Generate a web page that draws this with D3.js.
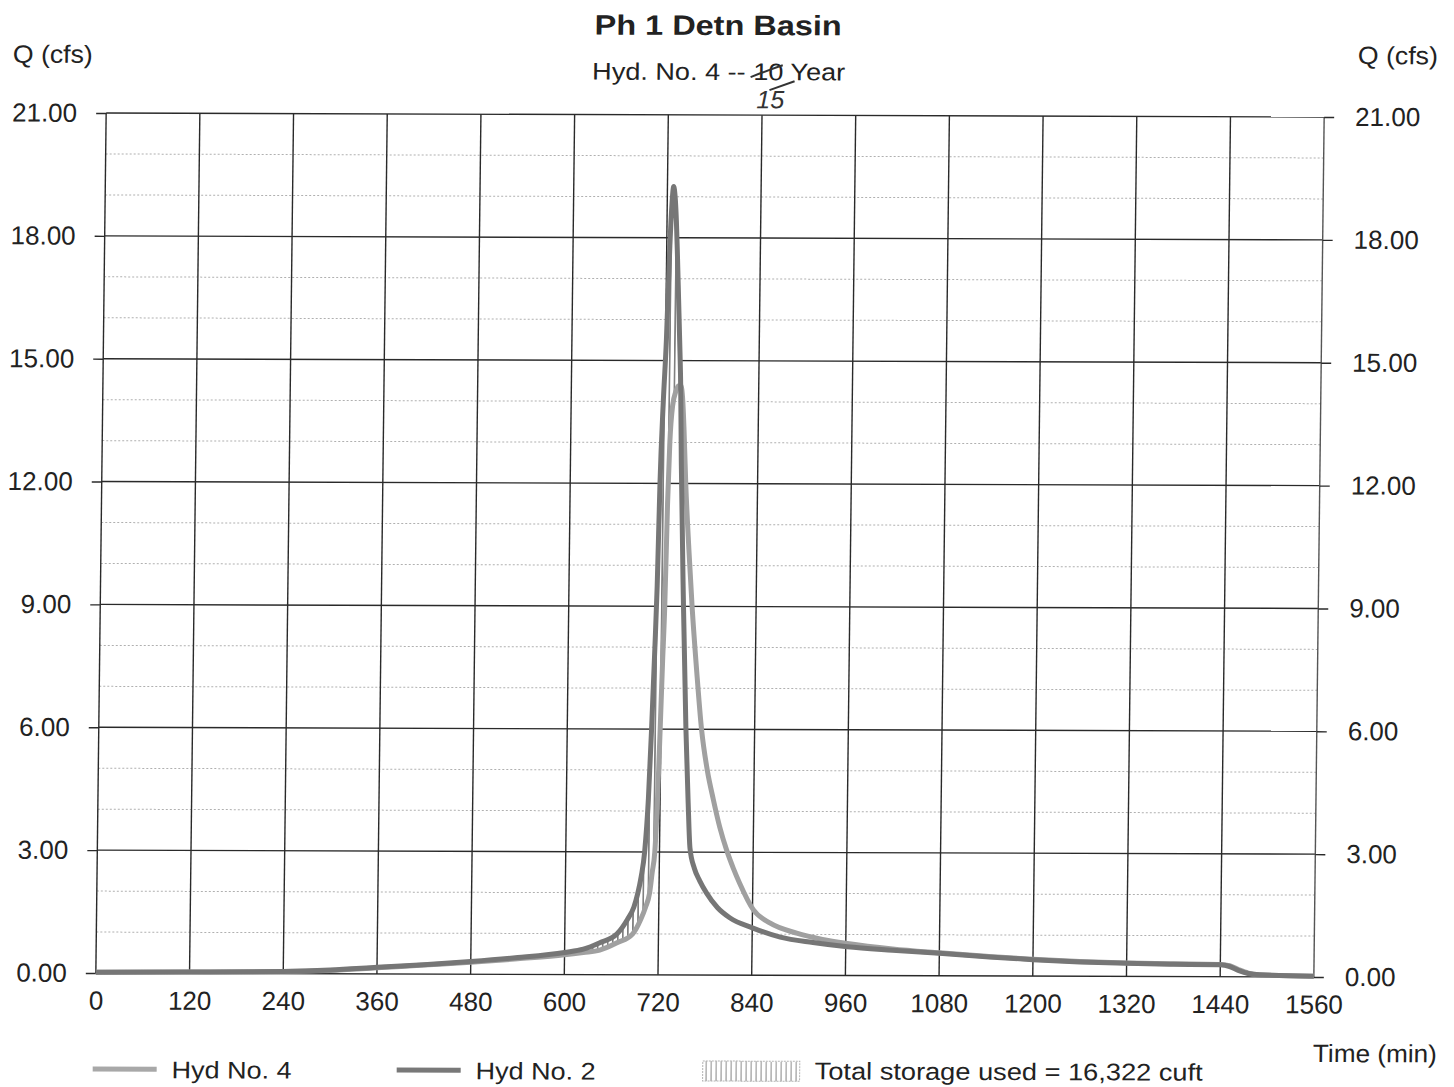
<!DOCTYPE html>
<html>
<head>
<meta charset="utf-8">
<script src="https://cdn.jsdelivr.net/npm/d3@7"></script>
<style>
  body { margin: 0; background: #fff; }
  svg { display: block; font-family: "Liberation Sans", Arial, sans-serif; }
</style>
</head>
<body>
<svg id="chart" width="1454" height="1087"></svg>
<script>
// Hydrograph ordinates: time (min) / flow (cfs)
const hyd2Time = [0, 120, 240, 300, 360, 420, 480, 540, 600, 624, 645, 667, 680, 688, 693, 697, 701, 705, 708, 711, 713, 715, 718, 721, 724, 726, 728, 730, 732, 734, 736, 738, 740, 742, 747, 752, 756, 759, 765, 772, 781, 795, 811, 841, 876, 918, 962, 1020, 1080, 1140, 1200, 1260, 1320, 1380, 1440, 1452, 1464, 1476, 1490, 1560];
const hyd2Flow = [0.02, 0.03, 0.05, 0.09, 0.16, 0.23, 0.31, 0.41, 0.54, 0.62, 0.78, 1.0, 1.35, 1.65, 2.0, 2.4, 3.0, 4.3, 6.0, 8.0, 9.5, 12.0, 14.0, 15.5, 17.8, 18.8, 19.25, 19.0, 18.4, 17.5, 16.5, 15.5, 14.4, 12.5, 9.0, 6.0, 4.2, 3.1, 2.6, 2.3, 2.0, 1.65, 1.4, 1.15, 0.93, 0.8, 0.7, 0.62, 0.55, 0.47, 0.40, 0.35, 0.32, 0.30, 0.29, 0.25, 0.15, 0.08, 0.05, 0.02];

const hyd4Time = [0, 120, 240, 300, 360, 420, 480, 540, 600, 624, 645, 667, 687, 697, 703, 708, 711, 714, 717, 719, 721, 723, 725, 727, 730, 734, 737, 740, 743, 745, 748, 753, 758, 765, 772, 780, 788, 797, 806, 815, 823, 841, 863, 897, 930, 962, 1020, 1080, 1140, 1200, 1260, 1320, 1380, 1440, 1452, 1464, 1476, 1490, 1560];
const hyd4Flow = [0.02, 0.03, 0.05, 0.08, 0.15, 0.22, 0.29, 0.38, 0.48, 0.54, 0.6, 0.78, 1.0, 1.35, 1.65, 2.0, 2.5, 3.0, 4.5, 6.0, 7.6, 9.0, 11.5, 13.0, 13.9, 14.25, 14.38, 14.4, 14.0, 13.3, 12.0, 10.4, 9.0, 7.4, 6.0, 5.0, 4.3, 3.6, 3.05, 2.6, 2.25, 1.6, 1.27, 1.03, 0.88, 0.78, 0.65, 0.56, 0.48, 0.41, 0.36, 0.33, 0.31, 0.30, 0.27, 0.17, 0.09, 0.05, 0.02];

const xTicks = [0, 120, 240, 360, 480, 600, 720, 840, 960, 1080, 1200, 1320, 1440, 1560];
const yTicks = [0, 3, 6, 9, 12, 15, 18, 21];
const yMinor = [1, 2, 4, 5, 7, 8, 10, 11, 13, 14, 16, 17, 19, 20];

const legendItems = ["Hyd No. 4", "Hyd No. 2"];
const storageLabel = "Total storage used = 16,322 cuft";

// plot frame
const L = 101, R = 1319, T = 115, B = 975;

const svg = d3.select("#chart");

const defs = svg.append("defs");
const hatch = defs.append("pattern")
  .attr("id", "hatch")
  .attr("patternUnits", "userSpaceOnUse")
  .attr("width", 5).attr("height", 10);
hatch.append("rect").attr("width", 5).attr("height", 10).attr("fill", "#fff");
hatch.append("line")
  .attr("x1", 2.5).attr("x2", 2.5).attr("y1", 0).attr("y2", 10)
  .attr("stroke", "#7a7a7a").attr("stroke-width", 1.6);

// the scanned page is slightly skewed, follow it
const root = svg.append("g")
  .attr("transform", "matrix(1,0.0033,-0.012,1,6.54,-2.34)");

const x = d3.scaleLinear().domain([0, 1560]).range([L, R]);
const y = d3.scaleLinear().domain([0, 21]).range([B, T]);

// minor grid (dotted)
root.append("g").selectAll("line")
  .data(yMinor).join("line")
  .attr("x1", L).attr("x2", R)
  .attr("y1", d => y(d)).attr("y2", d => y(d))
  .attr("stroke", "#b0b0b0").attr("stroke-width", 1)
  .attr("stroke-dasharray", "2,2");

// major grid
root.append("g").selectAll("line")
  .data(yTicks).join("line")
  .attr("x1", L).attr("x2", R)
  .attr("y1", d => y(d)).attr("y2", d => y(d))
  .attr("stroke", "#2a2a2a").attr("stroke-width", 1.4);

root.append("g").selectAll("line")
  .data(xTicks).join("line")
  .attr("x1", d => x(d)).attr("x2", d => x(d))
  .attr("y1", T).attr("y2", B)
  .attr("stroke", d => d === 1560 ? "#555" : "#2a2a2a")
  .attr("stroke-width", 1.4);

// axes
const fmt = d3.format(".2f");
const yLeft = root.append("g")
  .attr("transform", `translate(${L},0)`)
  .call(d3.axisLeft(y).tickValues(yTicks).tickFormat(fmt).tickSize(10).tickPadding(19));
const yRight = root.append("g")
  .attr("transform", `translate(${R},0)`)
  .call(d3.axisRight(y).tickValues(yTicks).tickFormat(fmt).tickSize(10).tickPadding(21));
const xBottom = root.append("g")
  .attr("transform", `translate(0,${B})`)
  .call(d3.axisBottom(x).tickValues(xTicks).tickFormat(d3.format("d")).tickSize(0).tickPadding(18));

[yLeft, yRight, xBottom].forEach(g => {
  g.select(".domain").remove();
  g.selectAll(".tick line").attr("stroke", "#2a2a2a").attr("stroke-width", 1.4);
  g.selectAll(".tick text")
    .attr("fill", "#222")
    .style("font-size", "26px")
    .style("font-family", "'Liberation Sans', Arial, sans-serif");
});

// storage between inflow and outflow (inflow above outflow)
const f2 = d3.scaleLinear().domain(hyd2Time).range(hyd2Flow);
const f4 = d3.scaleLinear().domain(hyd4Time).range(hyd4Flow);
const allTimes = Array.from(new Set(hyd2Time.concat(hyd4Time))).sort((a, b) => a - b)
  .filter(t => t <= 740);
const storage = allTimes.map(t => ({ t, hi: f2(t), lo: Math.min(f4(t), f2(t)) }));

root.append("path")
  .datum(storage)
  .attr("fill", "url(#hatch)")
  .attr("d", d3.area()
    .x(d => x(d.t))
    .y0(d => y(d.lo))
    .y1(d => y(d.hi))
    .curve(d3.curveMonotoneX));

const line = d3.line()
  .x(d => x(d[0]))
  .y(d => y(d[1]))
  .curve(d3.curveMonotoneX);

root.append("path")
  .datum(d3.zip(hyd4Time, hyd4Flow))
  .attr("fill", "none")
  .attr("stroke", "#a0a0a0")
  .attr("stroke-width", 5)
  .attr("stroke-linejoin", "round")
  .attr("d", line);

root.append("path")
  .datum(d3.zip(hyd2Time, hyd2Flow))
  .attr("fill", "none")
  .attr("stroke", "#767676")
  .attr("stroke-width", 5)
  .attr("stroke-linejoin", "round")
  .attr("d", line);

// titles
root.append("text")
  .attr("x", 712).attr("y", 35)
  .attr("text-anchor", "middle")
  .attr("textLength", 247).attr("lengthAdjust", "spacingAndGlyphs")
  .style("font-size", "28px").style("font-weight", "bold")
  .attr("fill", "#222")
  .text("Ph 1 Detn Basin");

root.append("text")
  .attr("x", 713).attr("y", 80)
  .attr("text-anchor", "middle")
  .attr("textLength", 253).attr("lengthAdjust", "spacingAndGlyphs")
  .style("font-size", "24px")
  .attr("fill", "#222")
  .text("Hyd. No. 4 -- 10 Year");

// handwritten correction
root.append("path")
  .attr("d", "M745,77 C755,73 765,69 777,65")
  .attr("fill", "none").attr("stroke", "#333").attr("stroke-width", 2);
root.append("path")
  .attr("d", "M764,90 L789,81")
  .attr("fill", "none").attr("stroke", "#333").attr("stroke-width", 2);
root.append("text")
  .attr("x", 751).attr("y", 108)
  .style("font-size", "25px").style("font-style", "italic")
  .attr("fill", "#333")
  .text("15");

root.append("text")
  .attr("x", 7).attr("y", 65)
  .attr("textLength", 80).attr("lengthAdjust", "spacingAndGlyphs")
  .style("font-size", "25px").attr("fill", "#222")
  .text("Q (cfs)");
root.append("text")
  .attr("x", 1432).attr("y", 62)
  .attr("text-anchor", "end")
  .attr("textLength", 80).attr("lengthAdjust", "spacingAndGlyphs")
  .style("font-size", "25px").attr("fill", "#222")
  .text("Q (cfs)");
root.append("text")
  .attr("x", 1443).attr("y", 1060)
  .attr("text-anchor", "end")
  .attr("textLength", 124).attr("lengthAdjust", "spacingAndGlyphs")
  .style("font-size", "25px").attr("fill", "#222")
  .text("Time (min)");

// legend
const legendX = [99, 403];
const legendColor = ["#a8a8a8", "#787878"];
const legend = root.append("g");
legend.selectAll("line")
  .data(legendItems).join("line")
  .attr("x1", (d, i) => legendX[i]).attr("x2", (d, i) => legendX[i] + 64)
  .attr("y1", 1071).attr("y2", 1071)
  .attr("stroke", (d, i) => legendColor[i]).attr("stroke-width", 5);
legend.selectAll("text.item")
  .data(legendItems).join("text")
  .attr("class", "item")
  .attr("x", (d, i) => legendX[i] + 79).attr("y", 1080)
  .attr("textLength", 120).attr("lengthAdjust", "spacingAndGlyphs")
  .style("font-size", "24px").attr("fill", "#222")
  .text(d => d);

legend.append("rect")
  .attr("x", 709).attr("y", 1061).attr("width", 97).attr("height", 20)
  .attr("fill", "url(#hatch)").attr("opacity", 0.55)
  .attr("stroke", "#777").attr("stroke-dasharray", "2,1");
legend.append("text")
  .attr("x", 821).attr("y", 1079)
  .attr("textLength", 388).attr("lengthAdjust", "spacingAndGlyphs")
  .style("font-size", "24px").attr("fill", "#222")
  .text(storageLabel);
</script>
</body>
</html>
